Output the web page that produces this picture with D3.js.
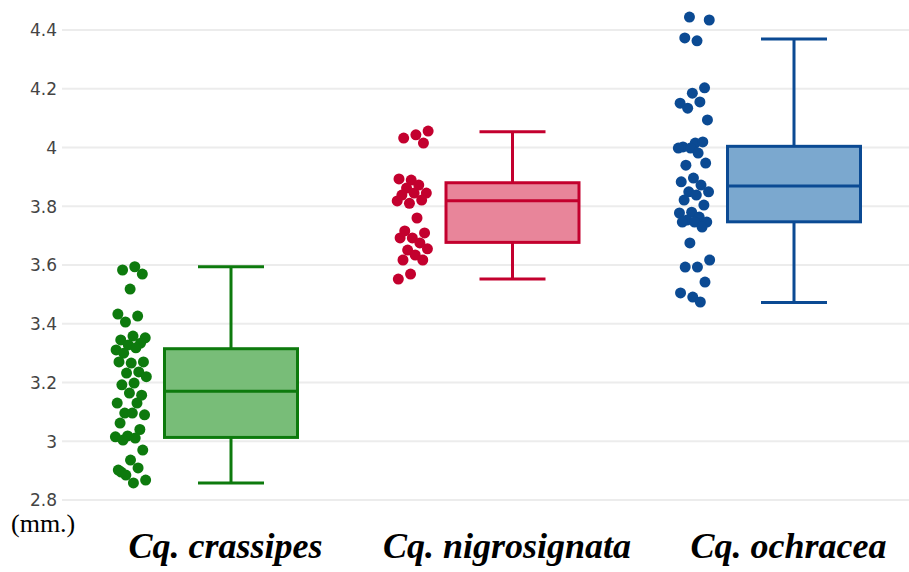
<!DOCTYPE html>
<html>
<head>
<meta charset="utf-8">
<script src="https://cdn.jsdelivr.net/npm/d3@7"></script>
<style>
  body { margin: 0; background: #fff; }
</style>
</head>
<body>
<div id="chart_div"></div>
<script>
// species names shown under each box
var categories = ['Cq. crassipes', 'Cq. nigrosignata', 'Cq. ochracea'];

// y axis ticks
var yTicks = [2.8, 3, 3.2, 3.4, 3.6, 3.8, 4, 4.2, 4.4];

// box statistics (lower whisker, q1, median, q3, upper whisker)
var lowerWhisker = [2.858, 3.552, 3.472];
var q1Values     = [3.013, 3.677, 3.747];
var medianValues = [3.170, 3.819, 3.869];
var q3Values     = [3.315, 3.880, 4.004];
var upperWhisker = [3.594, 4.054, 4.369];

// individual measurements (mm.)
var crassipesPoints = [
  3.594, 3.583, 3.569, 3.518, 3.433, 3.426, 3.406, 3.352, 3.358, 3.345,
  3.334, 3.328, 3.311, 3.318, 3.300, 3.270, 3.266, 3.270, 3.236, 3.232,
  3.220, 3.198, 3.192, 3.157, 3.164, 3.130, 3.130, 3.096, 3.090, 3.096,
  3.062, 3.040, 3.018, 3.015, 3.011, 3.004, 2.970, 2.936, 2.902, 2.909,
  2.885, 2.868, 2.858, 2.895
];
var nigrosignataPoints = [
  4.056, 4.043, 4.032, 4.015, 3.889, 3.893, 3.872, 3.862, 3.845, 3.845,
  3.838, 3.821, 3.810, 3.818, 3.760, 3.716, 3.709, 3.692, 3.692, 3.675,
  3.651, 3.655, 3.634, 3.617, 3.617, 3.569, 3.552
];
var ochraceaPoints = [
  4.444, 4.434, 4.363, 4.373, 4.203, 4.185, 4.151, 4.155, 4.134, 4.094,
  4.015, 4.002, 4.019, 3.998, 3.998, 3.981, 3.940, 3.947, 3.896, 3.883,
  3.872, 3.849, 3.849, 3.838, 3.821, 3.804, 3.780, 3.777, 3.763, 3.753,
  3.746, 3.746, 3.746, 3.729, 3.675, 3.617, 3.593, 3.593, 3.542, 3.491,
  3.505, 3.474
];

var lineColors = ['#0d7a0d', '#c3002e', '#0b4a93'];
var fillColors = ['#78bd78', '#e8859a', '#7ba8cf'];

var width = 909, height = 572;

var svg = d3.select('#chart_div')
  .append('svg')
  .attr('width', width)
  .attr('height', height);

var y = d3.scaleLinear().domain([2.8, 4.4]).range([500, 30]);
var x = d3.scalePoint().domain(categories).range([231, 794]);

var boxWidth = 133;
var capWidth = 66;
var pointOffset = -100;
var jitterWidth = 32;

// grid lines
svg.append('g')
  .selectAll('line')
  .data(yTicks)
  .enter()
  .append('line')
  .attr('x1', 62)
  .attr('x2', width)
  .attr('y1', function(d) { return y(d); })
  .attr('y2', function(d) { return y(d); })
  .style('stroke', '#ececec')
  .style('stroke-width', 2);

// y axis labels
var yAxis = d3.axisLeft(y).tickValues(yTicks).tickSize(0).tickPadding(0)
  .tickFormat(function(d) { return d3.format('~g')(d); });
var yg = svg.append('g')
  .attr('transform', 'translate(57,0)')
  .call(yAxis);
yg.select('.domain').remove();
yg.selectAll('text')
  .attr('dy', '0.35em')
  .style('font-family', '"DejaVu Sans", Verdana, sans-serif')
  .style('font-size', '17px')
  .style('fill', '#444');

// unit label
svg.append('text')
  .attr('x', 11)
  .attr('y', 532)
  .style('font-family', '"Liberation Serif", "Times New Roman", serif')
  .style('font-size', '26px')
  .style('fill', '#000')
  .text('(mm.)');

// category labels
var xAxis = d3.axisBottom(x).tickSize(0).tickPadding(0);
var xg = svg.append('g')
  .attr('transform', 'translate(-6,530)')
  .call(xAxis);
xg.select('.domain').remove();
xg.selectAll('text')
  .attr('dy', '28px')
  .style('font-family', '"Liberation Serif", "Times New Roman", serif')
  .style('font-size', '36px')
  .style('font-weight', 'bold')
  .style('font-style', 'italic')
  .style('fill', '#000');

var pointSets = [crassipesPoints, nigrosignataPoints, ochraceaPoints];

categories.forEach(function(cat, i) {
  var cx = x(cat);
  var g = svg.append('g').attr('class', 'box');

  // whisker stem
  g.append('line')
    .attr('x1', cx).attr('x2', cx)
    .attr('y1', y(lowerWhisker[i])).attr('y2', y(upperWhisker[i]))
    .style('stroke', lineColors[i]).style('stroke-width', 3);

  // caps
  [lowerWhisker[i], upperWhisker[i]].forEach(function(v) {
    g.append('line')
      .attr('x1', cx - capWidth / 2).attr('x2', cx + capWidth / 2)
      .attr('y1', y(v)).attr('y2', y(v))
      .style('stroke', lineColors[i]).style('stroke-width', 3);
  });

  // box
  g.append('rect')
    .attr('x', cx - boxWidth / 2)
    .attr('y', y(q3Values[i]))
    .attr('width', boxWidth)
    .attr('height', y(q1Values[i]) - y(q3Values[i]))
    .style('fill', fillColors[i])
    .style('stroke', lineColors[i])
    .style('stroke-width', 3);

  // median
  g.append('line')
    .attr('x1', cx - boxWidth / 2).attr('x2', cx + boxWidth / 2)
    .attr('y1', y(medianValues[i])).attr('y2', y(medianValues[i]))
    .style('stroke', lineColors[i]).style('stroke-width', 3);

  // jittered points, spread with a golden ratio sequence
  g.selectAll('circle')
    .data(pointSets[i])
    .enter()
    .append('circle')
    .attr('cx', function(d, j) {
      var f = ((j + 1) * 0.6180339887 + i * 0.37) % 1;
      return cx + pointOffset + (f - 0.5) * jitterWidth;
    })
    .attr('cy', function(d) { return y(d); })
    .attr('r', 5.5)
    .style('fill', lineColors[i]);
});
</script>
</body>
</html>
